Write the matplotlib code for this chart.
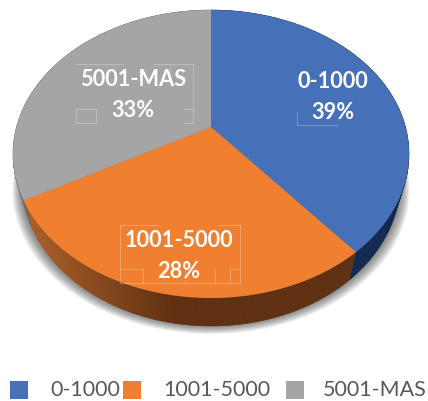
import numpy as np
from matplotlib import pyplot as plt

categories = ['0-1000', '1001-5000', '5001-MAS']
shares = [39, 28, 33]
colors = ['#4670b7', '#f07f2f', '#a5a5a5']
side_colors = ['#12294f', '#5f3011', '#6a6a6a']
label_pos = [(333, 97), (179, 256), (133, 95)]
legend_box_x = [12, 125, 288]
legend_text_x = [50, 163.5, 323]

# faint leftover frames around the labels in the source image: x0, y0, x1, y1
frame_lines = [
    (76, 64, 123, 64), (154, 64, 193, 64), (193, 64, 193, 123), (170, 64, 170, 80),
    (76, 109, 96, 109), (76, 123, 96, 123), (76, 109, 76, 123), (96, 109, 96, 123),
    (184, 109, 193, 109), (184, 123, 193, 123),
    (297, 112, 297, 125), (297, 125, 338, 125),
    (120, 225, 159, 225), (218, 225, 240, 225), (120, 225, 120, 283), (240, 225, 240, 283),
    (120, 283, 240, 283), (120, 269, 143, 269), (230, 269, 240, 269), (143, 269, 143, 283),
    (230, 269, 230, 283), (185, 269, 185, 283), (215, 269, 215, 283),
]

# picture geometry of the tilted disc, in pixels
CX = 211
R = 194.5
K = 0.1875
A = 190.3
B = 274
DEPTH = 28
SHRINK = 0.953


def project(theta, r=1.0, lower=False):
    # theta is clockwise from the top of the pie
    u = r * np.sin(theta)
    v = r * np.cos(theta)
    d = 1 + K * v
    x = R * u / d
    y = 401 - (A * v + B) / d
    if lower:
        return CX + SHRINK * x, y + DEPTH
    return CX + x, y


def mix(c1, c2, t):
    a = np.array(plt.matplotlib.colors.to_rgb(c1))
    b = np.array(plt.matplotlib.colors.to_rgb(c2))
    return tuple(a + (b - a) * t)


fig = plt.figure(figsize=(4.28, 4.01), dpi=100)
ax = fig.add_axes([0, 0, 1, 1])
ax.set_xlim(0, 428)
ax.set_ylim(401, 0)
ax.axis('off')

edges = 2 * np.pi * np.cumsum([0] + shares) / sum(shares)

# soft shadow under the pie
t = np.linspace(0, 2 * np.pi, 300)
for grow in np.linspace(10, 0, 11):
    sx, sy = project(t, lower=True)
    ax.fill(CX + (sx - CX) * (1 + grow / 190), sy + grow * 0.9 - 1, color='#000000', alpha=0.06, lw=0, zorder=1)

# side wall, split up so the orange one can fade towards the left
for i in range(3):
    th = np.linspace(edges[i], edges[i + 1], 120)
    for a, b in zip(th[:-1], th[1:]):
        x1, y1 = project(np.array([a, b]))
        x2, y2 = project(np.array([b, a]), lower=True)
        c = side_colors[i]
        if i == 1:
            c = mix('#5f3011', '#ad6028', np.clip((175 - x1[0]) / 150, 0, 1))
        ax.fill(np.r_[x1, x2], np.r_[y1, y2], color=c, lw=0.4, zorder=2)

# top of the pie
for i in range(3):
    th = np.linspace(edges[i], edges[i + 1], 200)
    x, y = project(th)
    x = np.r_[CX, x]
    y = np.r_[project(0.0, r=0.0)[1], y]
    ax.fill(x, y, color=colors[i], lw=0, zorder=3)

for x0, y0, x1, y1 in frame_lines:
    ax.plot([x0, x1], [y0, y1], color='white', lw=0.6, alpha=0.3, zorder=4)

for i in range(3):
    px, py = label_pos[i]
    ax.text(px, py, f'{categories[i]}\n{shares[i]}%', color='white', fontsize=15.7, family='Lato',
            fontweight='bold', ha='center', va='center', linespacing=1.55, zorder=5)

# legend
for i in range(3):
    ax.scatter([legend_box_x[i] + 7.5], [390], marker='s', s=150, color=colors[i], lw=0)
    ax.text(legend_text_x[i], 389.5, categories[i], color='#595959', fontsize=15.5, family='Lato', ha='left', va='center')

fig.savefig('out.png', dpi=100)
